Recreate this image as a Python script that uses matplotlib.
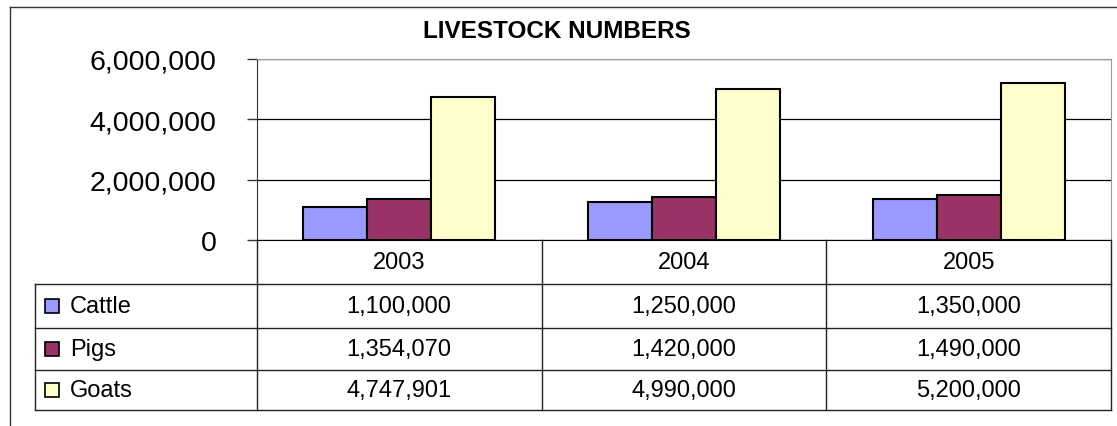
import matplotlib
matplotlib.use('Agg')
import matplotlib.pyplot as plt
from matplotlib.lines import Line2D
from matplotlib.ticker import FuncFormatter

plt.rcParams['font.family'] = ['Liberation Sans', 'DejaVu Sans']

# Data
years = ['2003', '2004', '2005']
series = ['Cattle', 'Pigs', 'Goats']
cattle = [1100000, 1250000, 1350000]
pigs = [1354070, 1420000, 1490000]
goats = [4747901, 4990000, 5200000]
colors = ['#9999FF', '#993366', '#FFFFCC']
values = [cattle, pigs, goats]

W, H = 1117, 427
fig = plt.figure(figsize=(W / 100, H / 100), dpi=100)

# outer chart frame (top and left edges visible)
fig.add_artist(Line2D([10 / W, 10 / W], [0, 1 - 8 / H], color='#333333', lw=1))
fig.add_artist(Line2D([10 / W, 1], [1 - 8 / H, 1 - 8 / H], color='#333333', lw=1))

fig.text(557 / W, 1 - 31 / H, 'LIVESTOCK NUMBERS', ha='center', va='center',
         fontsize=17.5, fontweight='bold')

# plot area
ax = fig.add_axes([257 / W, 1 - 241 / H, (1111 - 257) / W, (241 - 60) / H])
bw = 0.225
x = range(len(years))
for i, (name, vals) in enumerate(zip(series, values)):
    ax.bar([xi + (i - 1) * bw for xi in x], vals, width=bw, color=colors[i],
           edgecolor='black', linewidth=1.5, zorder=3, label=name)
ax.set_xlim(-0.5, 2.5)
ax.set_ylim(0, 6000000)
ax.set_yticks(range(0, 6000001, 2000000))
ax.yaxis.set_major_formatter(FuncFormatter(lambda v, p: f'{int(v):,}'))
ax.set_xticks([])
ax.grid(axis='y', color='black', linewidth=0.9, zorder=0)
ax.tick_params(axis='y', labelsize=20.5, pad=22, length=7, width=1, color='#333333')
ax.spines['top'].set_color('#999999')
ax.spines['right'].set_color('#999999')
ax.spines['left'].set_color('#333333')
ax.spines['bottom'].set_color('black')

# data table below the plot (row edges in pixels from the axis line)
rows = [0, 44, 88, 130, 170]
tax = fig.add_axes([35 / W, 1 - 411 / H, (1111 - 35) / W, (411 - 241) / H])
left = -0.5 - (257 - 35) / 285
tax.set_xlim(left, 2.5)
tax.set_ylim(170, 0)
tax.axis('off')
lc = '#222222'
for r in rows[1:]:
    tax.plot([left, 2.5], [r, r], color=lc, lw=1, clip_on=False)
for c in [-0.5, 0.5, 1.5, 2.5]:
    tax.plot([c, c], [0, 170], color=lc, lw=1, clip_on=False)
tax.plot([left, left], [44, 170], color=lc, lw=1, clip_on=False)

for j, yr in enumerate(years):
    tax.text(j, 22, yr, ha='center', va='center', fontsize=17)
for i, (name, vals) in enumerate(zip(series, values)):
    yc = (rows[i + 1] + rows[i + 2]) / 2
    tax.plot(left + 17 / 285, yc, marker='s', ms=10, mfc=colors[i], mec='black',
             mew=1.2, clip_on=False)
    tax.text(left + 35 / 285, yc, name, ha='left', va='center', fontsize=17)
    for j, v in enumerate(vals):
        tax.text(j, yc, f'{v:,}', ha='center', va='center', fontsize=17)

fig.savefig('out.png', dpi=100)
